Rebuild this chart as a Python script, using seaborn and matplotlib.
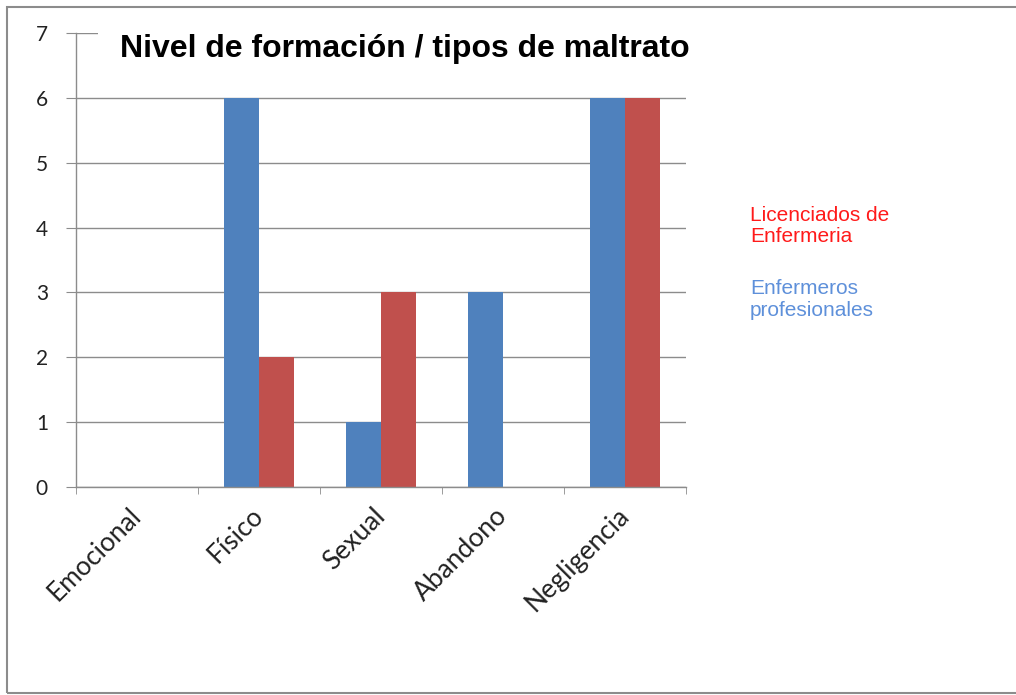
import pandas as pd
import seaborn as sns
import matplotlib.pyplot as plt
from matplotlib.patches import Rectangle
from matplotlib.ticker import FixedLocator

categorias = ["Emocional", "Físico", "Sexual", "Abandono", "Negligencia"]
enfermeros = [0, 6, 1, 3, 6]
licenciados = [0, 2, 3, 0, 6]
grupos = ["Enfermeros profesionales", "Licenciados de Enfermeria"]
colores = ["#4F81BD", "#C0504D"]

df = pd.DataFrame({
    "tipo": categorias * 2,
    "valor": enfermeros + licenciados,
    "grupo": [grupos[0]] * len(categorias) + [grupos[1]] * len(categorias),
})

sns.set_style("white")
plt.rcParams["font.family"] = ["Lato", "DejaVu Sans"]

fig = plt.figure(figsize=(10.16, 6.95), dpi=100)
ax = fig.add_axes([0.0748, 0.2993, 0.6004, 0.6532])

sns.barplot(data=df, x="tipo", y="valor", hue="grupo", hue_order=grupos,
            palette=colores, width=0.574, gap=0, linewidth=0, saturation=1,
            legend=False, ax=ax)

ax.set_ylim(0, 7)
ax.set_xlim(-0.5, len(categorias) - 0.5)
ax.set_yticks(range(8))
ax.yaxis.grid(True, color="#8c8c8c", linewidth=1)
ax.set_axisbelow(True)
ax.set_xlabel("")
ax.set_ylabel("")

for s in ["top", "right"]:
    ax.spines[s].set_visible(False)
for s in ["left", "bottom"]:
    ax.spines[s].set_color("#8c8c8c")
    ax.spines[s].set_linewidth(1)

ax.tick_params(axis="y", length=7.2, color="#8c8c8c", labelsize=15, pad=13, left=True,
               labelcolor="#222222")
ax.tick_params(axis="x", which="major", length=0, labelsize=19, pad=18, labelcolor="#222222")
ax.xaxis.set_minor_locator(FixedLocator([i - 0.5 for i in range(len(categorias) + 1)]))
ax.tick_params(axis="x", which="minor", length=5, color="#8c8c8c", bottom=True)
plt.setp(ax.get_xticklabels(), rotation=45, ha="right", va="center", rotation_mode="anchor")

fig.text(0.3986, 0.9295, "Nivel de formación / tipos de maltrato", ha="center", va="center",
         fontsize=23, fontweight="bold", color="black",
         family=["Liberation Sans", "DejaVu Sans"],
         bbox=dict(facecolor="white", edgecolor="none", pad=16))

fig.text(0.738, 0.675, "Licenciados de\nEnfermeria", color="#FF1A1A", fontsize=15,
         family=["Liberation Sans", "DejaVu Sans"], va="center", linespacing=1.15)
fig.text(0.738, 0.569, "Enfermeros\nprofesionales", color="#5E90DA", fontsize=15,
         family=["Liberation Sans", "DejaVu Sans"], va="center", linespacing=1.15)

fig.patches.append(Rectangle((0.007, 0.003), 1.2, 0.987, transform=fig.transFigure,
                             fill=False, edgecolor="#8c8c8c", linewidth=1.5))

fig.savefig("out.png", dpi=100)
